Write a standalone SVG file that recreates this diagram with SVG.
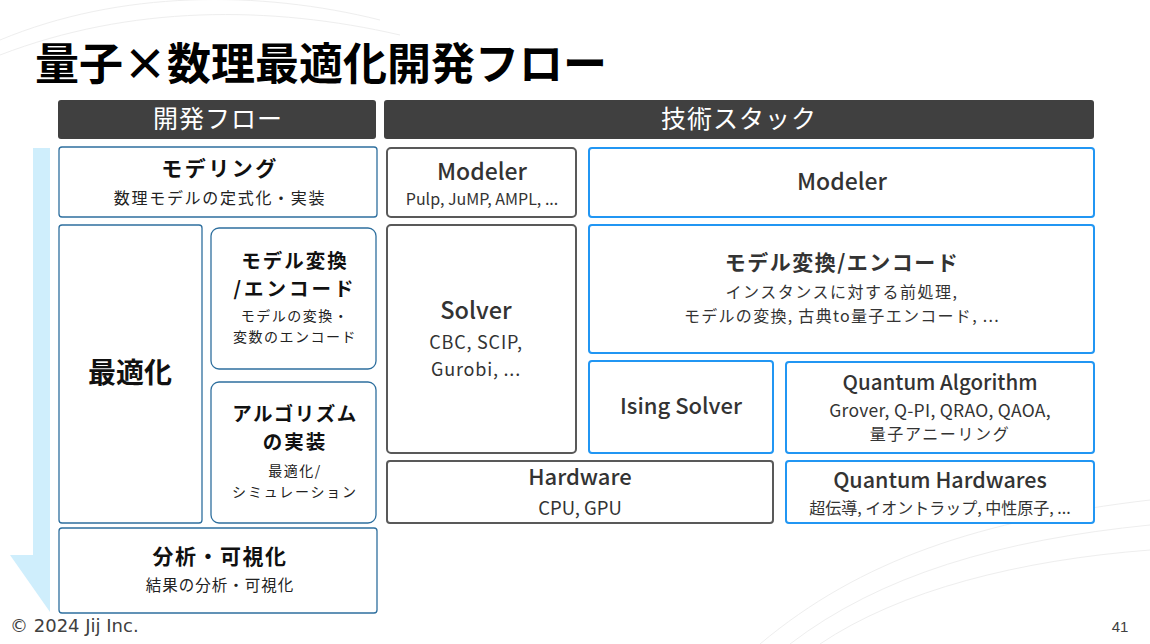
<svg xmlns="http://www.w3.org/2000/svg" width="1150" height="644" viewBox="0 0 1150 644">
<defs>
<style>
text{font-family:"Noto Sans CJK JP","Noto Sans",sans-serif;text-anchor:middle;fill:#1a1a1a}
.hdr{fill:#404040}
.hdrt{fill:#ffffff;font-size:25px;letter-spacing:1px}
.lbox{fill:#ffffff;stroke:#2e6f9e;stroke-width:1.3}
.gbox{fill:#ffffff;stroke:#595959;stroke-width:2}
.bbox{fill:#ffffff;stroke:#2196f3;stroke-width:2}
.t1{font-size:21px;font-weight:bold;fill:#111;letter-spacing:2px}
.t2{font-size:15.5px;fill:#222;letter-spacing:1.5px}
.t3{font-size:14px;fill:#222;letter-spacing:1.5px}
.r1{font-size:23px;font-weight:500;fill:#333}
.r2{font-size:16px;fill:#333;letter-spacing:1.3px}
.r3{font-size:16px;fill:#333}
.bg{fill:none;stroke:#eeeeee;stroke-width:1}
</style>
</defs>
<rect width="1150" height="644" fill="#ffffff"/>
<g id="background">
<path class="bg" d="M0 40 C120 -10 260 -10 380 20"/>
<path class="bg" d="M0 55 C130 5 270 5 400 35"/>
<path class="bg" d="M760 644 C860 560 980 520 1150 500"/>
<path class="bg" d="M790 644 C880 575 1000 540 1150 525"/>
<path class="bg" d="M820 644 C900 590 1020 560 1150 550"/>
</g>
<text x="35" y="80" style="font-size:44px;font-weight:bold;text-anchor:start;fill:#000">量子×数理最適化開発フロー</text>
<g id="header-flow">
<rect class="hdr" x="58" y="100" width="318" height="39" rx="3"/>
<text class="hdrt" x="218" y="128">開発フロー</text>
</g>
<g id="header-stack">
<rect class="hdr" x="384" y="100" width="710" height="39" rx="3"/>
<text class="hdrt" x="739" y="128">技術スタック</text>
</g>
<g id="connectors">
<path d="M33 148 H50 V612 L10 555 H33 Z" fill="#cfeefc"/>
</g>
<g id="modeling">
<rect class="lbox" x="59" y="147" width="318" height="70" rx="3"/>
<text class="t1" x="220" y="176" style="letter-spacing:2.5px">モデリング</text>
<text class="t2" x="220" y="204" style="font-size:16px;letter-spacing:1.7px">数理モデルの定式化・実装</text>
</g>
<g id="optimization">
<rect class="lbox" x="59" y="225" width="143" height="298" rx="3"/>
<text x="130" y="383" style="font-size:28px;font-weight:bold;fill:#111">最適化</text>
</g>
<g id="model-transform">
<rect class="lbox" x="211" y="228" width="165" height="141" rx="8"/>
<text class="t1" x="295" y="268" style="font-size:19.5px">モデル変換</text>
<text class="t1" x="295" y="296" style="font-size:19.5px;letter-spacing:3px">/エンコード</text>
<text class="t3" x="295" y="321">モデルの変換・</text>
<text class="t3" x="295" y="342">変数のエンコード</text>
</g>
<g id="algorithm">
<rect class="lbox" x="211" y="382" width="165" height="141" rx="8"/>
<text class="t1" x="295" y="421" style="font-size:19.5px;letter-spacing:1.5px">アルゴリズム</text>
<text class="t1" x="295" y="449" style="font-size:19.5px">の実装</text>
<text class="t3" x="295" y="476">最適化/</text>
<text class="t3" x="295" y="497" style="letter-spacing:1.8px">シミュレーション</text>
</g>
<g id="analysis">
<rect class="lbox" x="59" y="528" width="318" height="85" rx="3"/>
<text class="t1" x="220" y="564" style="letter-spacing:1.5px">分析・可視化</text>
<text class="t2" x="220" y="591" style="letter-spacing:1px">結果の分析・可視化</text>
</g>
<g id="modeler-classic">
<rect class="gbox" x="387" y="148" width="189" height="69" rx="4"/>
<text class="r1" x="482" y="180">Modeler</text>
<text class="r3" x="482" y="205">Pulp, JuMP, AMPL, ...</text>
</g>
<g id="solver">
<rect class="gbox" x="387" y="225" width="189" height="228" rx="4"/>
<text class="r1" x="476" y="319" style="font-size:23.5px">Solver</text>
<text class="r2" x="476" y="349" style="font-size:18px;letter-spacing:0.8px">CBC, SCIP,</text>
<text class="r2" x="476" y="376" style="font-size:18px;letter-spacing:0.8px">Gurobi, ...</text>
</g>
<g id="hardware">
<rect class="gbox" x="387" y="461" width="386" height="62" rx="3"/>
<text class="r1" x="580" y="485" style="font-size:22px">Hardware</text>
<text class="r2" x="580" y="515" style="font-size:18.5px;letter-spacing:0">CPU, GPU</text>
</g>
<g id="modeler-quantum">
<rect class="bbox" x="589" y="148" width="505" height="69" rx="3"/>
<text class="r1" x="842" y="190">Modeler</text>
</g>
<g id="transform-encode">
<rect class="bbox" x="589" y="225" width="505" height="128" rx="3"/>
<text x="842" y="270" style="font-size:21px;font-weight:bold;fill:#333;letter-spacing:1.5px">モデル変換/エンコード</text>
<text class="r2" x="842" y="298" style="letter-spacing:1.5px">インスタンスに対する前処理,</text>
<text class="r2" x="842" y="322">モデルの変換, 古典to量子エンコード, ...</text>
</g>
<g id="ising-solver">
<rect class="bbox" x="589" y="361" width="184" height="92" rx="3"/>
<text class="r1" x="681" y="414" style="font-size:22px">Ising Solver</text>
</g>
<g id="quantum-algorithm">
<rect class="bbox" x="786" y="362" width="308" height="91" rx="3"/>
<text class="r1" x="940" y="390" style="font-size:20.5px">Quantum Algorithm</text>
<text class="r2" x="940" y="417" style="font-size:17.5px;letter-spacing:0.3px">Grover, Q-PI, QRAO, QAOA,</text>
<text class="r2" x="940" y="440" style="letter-spacing:1.6px">量子アニーリング</text>
</g>
<g id="quantum-hardwares">
<rect class="bbox" x="786" y="461" width="308" height="62" rx="3"/>
<text class="r1" x="940" y="488" style="font-size:21.5px">Quantum Hardwares</text>
<text class="r3" x="940" y="514">超伝導, イオントラップ, 中性原子, ...</text>
</g>
<text x="10" y="632" style="font-size:18px;text-anchor:start;fill:#404040;font-family:'DejaVu Sans',sans-serif">© 2024 Jij Inc.</text>
<text x="1120" y="632" style="font-size:15px;fill:#404040;font-family:'Liberation Sans',sans-serif">41</text>
</svg>
